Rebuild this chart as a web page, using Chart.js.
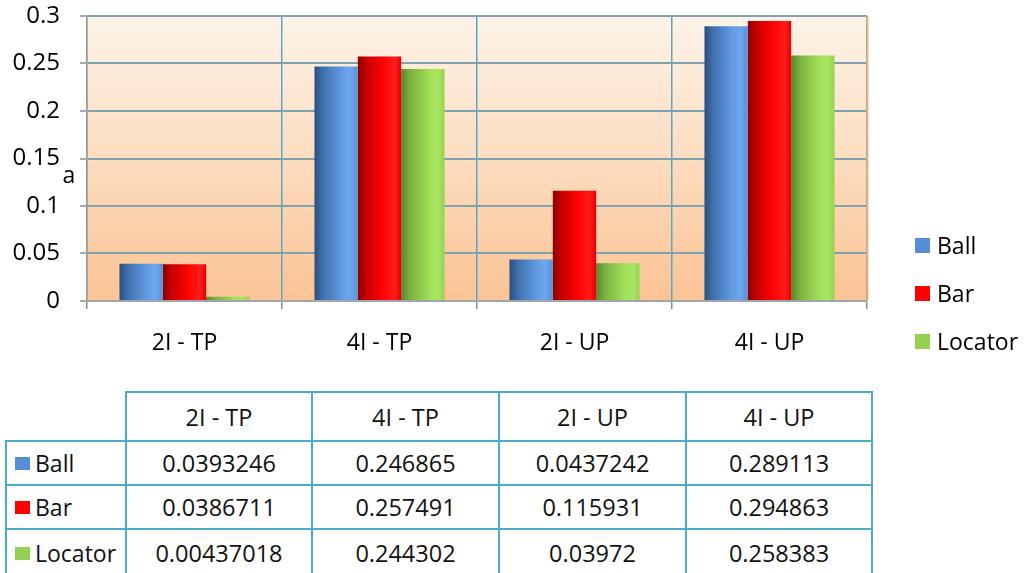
<!DOCTYPE html>
<html>
<head>
<meta charset="utf-8">
<script src="https://cdn.jsdelivr.net/npm/chart.js@4/dist/chart.umd.min.js"></script>
<style>
  html, body { margin: 0; padding: 0; background: #fff; width: 1026px; height: 573px; overflow: hidden; font-family: 'Open Sans', sans-serif; }
  #plotWrap { position: absolute; left: 0; top: 0; width: 1026px; height: 380px; }
  #legend { position: absolute; left: 915px; top: 0; }
  .li { position: absolute; left: 0; display: flex; align-items: center; white-space: nowrap; font-size: 23px; height: 30px; color: #000; }
  .li .sw { width: 15px; height: 15px; margin-right: 7px; flex: none; }
  #dataTable { position: absolute; left: 5px; top: 391px; border-collapse: collapse; table-layout: fixed; font-size: 23.5px; color: #111; }
  #dataTable td { border: 2px solid #4BACC6; text-align: center; padding: 0; white-space: nowrap; }
  #dataTable td.blank { border: none; }
  #dataTable td.rowHead { text-align: left; padding-left: 8px; font-size: 23px; }
  #dataTable .sw { display: inline-block; width: 15px; height: 13px; margin-right: 5px; vertical-align: middle; position: relative; top: -2px; }
</style>
</head>
<body>
<div id="plotWrap"><canvas id="chart"></canvas></div>
<div id="legend"></div>
<table id="dataTable"></table>
<script>
// Categories, series and values
const categories = ['2I - TP', '4I - TP', '2I - UP', '4I - UP'];
const seriesNames = ['Ball', 'Bar', 'Locator'];
const ballValues = [0.0393246, 0.246865, 0.0437242, 0.289113];
const barValues = [0.0386711, 0.257491, 0.115931, 0.294863];
const locatorValues = [0.00437018, 0.244302, 0.03972, 0.258383];
const yTickValues = [0, 0.05, 0.1, 0.15, 0.2, 0.25, 0.3];
const axisTitle = 'a';

// Styles
const seriesColors = ['#558ED5', '#FF0000', '#92D050'];
const shadeStops = [
  [[0, '#2C4E7E'], [0.18, '#3F6EAA'], [0.6, '#5F98DE'], [0.82, '#6DA7EE'], [1, '#5B90D4']],
  [[0, '#8A0000'], [0.2, '#C80000'], [0.6, '#FF0404'], [0.85, '#FF1C1C'], [1, '#E20000']],
  [[0, '#5A862C'], [0.2, '#7AB03F'], [0.65, '#A2DF5A'], [0.85, '#A8E661'], [1, '#96D150']]
];
const FONT = "'Open Sans', sans-serif";

const seriesValues = [ballValues, barValues, locatorValues];

// Plot background gradient, cylinder shading on bars, axis letter and right edge
const plotDecor = {
  id: 'plotDecor',
  beforeDraw(chart) {
    const { ctx, chartArea: a } = chart;
    const g = ctx.createLinearGradient(0, a.top, 0, a.bottom);
    g.addColorStop(0, '#FDF3E8');
    g.addColorStop(0.5, '#FCDDC0');
    g.addColorStop(1, '#FAC394');
    ctx.save();
    ctx.fillStyle = g;
    ctx.fillRect(a.left, a.top, a.right - a.left, a.bottom - a.top);
    ctx.restore();
  },
  beforeDatasetsDraw(chart) {
    const ctx = chart.ctx;
    chart.data.datasets.forEach((ds, i) => {
      const meta = chart.getDatasetMeta(i);
      meta.data.forEach(el => {
        const l = el.x - el.width / 2, r = el.x + el.width / 2;
        const g = ctx.createLinearGradient(l, 0, r, 0);
        shadeStops[i].forEach(([o, c]) => g.addColorStop(o, c));
        el.options = Object.assign({}, el.options, { backgroundColor: g });
      });
    });
  },
  afterDraw(chart) {
    const { ctx, chartArea: a } = chart;
    ctx.save();
    ctx.strokeStyle = '#F6B47C';
    ctx.lineWidth = 2;
    ctx.beginPath();
    ctx.moveTo(a.right + 0.5, a.top);
    ctx.lineTo(a.right + 0.5, a.bottom);
    ctx.stroke();
    ctx.font = '23px ' + FONT;
    ctx.fillStyle = '#000';
    ctx.textAlign = 'center';
    ctx.textBaseline = 'alphabetic';
    ctx.fillText(axisTitle, a.left - 18, 183);
    ctx.restore();
  }
};

new Chart(document.getElementById('chart'), {
  type: 'bar',
  data: {
    labels: categories,
    datasets: seriesNames.map((name, i) => ({
      label: name,
      data: seriesValues[i],
      backgroundColor: seriesColors[i],
      borderWidth: 0,
      categoryPercentage: 0.667,
      barPercentage: 1
    }))
  },
  options: {
    responsive: true,
    maintainAspectRatio: false,
    animation: false,
    layout: { padding: { top: 0, right: 159, left: 0, bottom: 0 } },
    plugins: { legend: { display: false }, tooltip: { enabled: false } },
    scales: {
      x: {
        afterFit(s) { s.height = 79; },
        grid: { color: '#5AA5C8', lineWidth: 1.5, tickLength: 8, tickColor: '#8C8C8C', tickWidth: 1.5 },
        border: { color: '#A8A8A8', width: 1.5 },
        ticks: { color: '#000', padding: 21, font: { family: FONT, size: 23 } }
      },
      y: {
        min: 0,
        max: 0.3,
        afterFit(s) { s.width = 87; s.paddingTop = 16; },
        afterBuildTicks(s) { s.ticks = yTickValues.map(v => ({ value: v })); },
        grid: { color: '#7FA2AE', lineWidth: 2, tickLength: 7, tickColor: '#8C8C8C', tickWidth: 1.5 },
        border: { color: '#A09A94', width: 1.5 },
        ticks: { color: '#000', padding: 20, font: { family: FONT, size: 24 }, callback: v => String(v) }
      }
    }
  },
  plugins: [plotDecor]
});

// Legend on the right
const legend = document.getElementById('legend');
const legendCenters = [245, 293, 341];
seriesNames.forEach((name, i) => {
  const item = document.createElement('div');
  item.className = 'li';
  item.style.top = (legendCenters[i] - 15) + 'px';
  const sw = document.createElement('span');
  sw.className = 'sw';
  sw.style.background = seriesColors[i];
  item.appendChild(sw);
  item.appendChild(document.createTextNode(name));
  legend.appendChild(item);
});

// Data table beneath the chart
const table = document.getElementById('dataTable');
const colWidths = [120, 186, 187, 187, 186];
const cg = document.createElement('colgroup');
colWidths.forEach(w => { const c = document.createElement('col'); c.style.width = w + 'px'; cg.appendChild(c); });
table.appendChild(cg);
const head = document.createElement('tr');
head.style.height = '49px';
const blank = document.createElement('td');
blank.className = 'blank';
head.appendChild(blank);
categories.forEach(c => { const td = document.createElement('td'); td.textContent = c; head.appendChild(td); });
table.appendChild(head);
seriesNames.forEach((name, i) => {
  const tr = document.createElement('tr');
  tr.style.height = i === seriesNames.length - 1 ? '48px' : '44px';
  const th = document.createElement('td');
  th.className = 'rowHead';
  const sw = document.createElement('span');
  sw.className = 'sw';
  sw.style.background = seriesColors[i];
  th.appendChild(sw);
  th.appendChild(document.createTextNode(name));
  tr.appendChild(th);
  seriesValues[i].forEach(v => { const td = document.createElement('td'); td.textContent = String(v); tr.appendChild(td); });
  table.appendChild(tr);
});
</script>
</body>
</html>
